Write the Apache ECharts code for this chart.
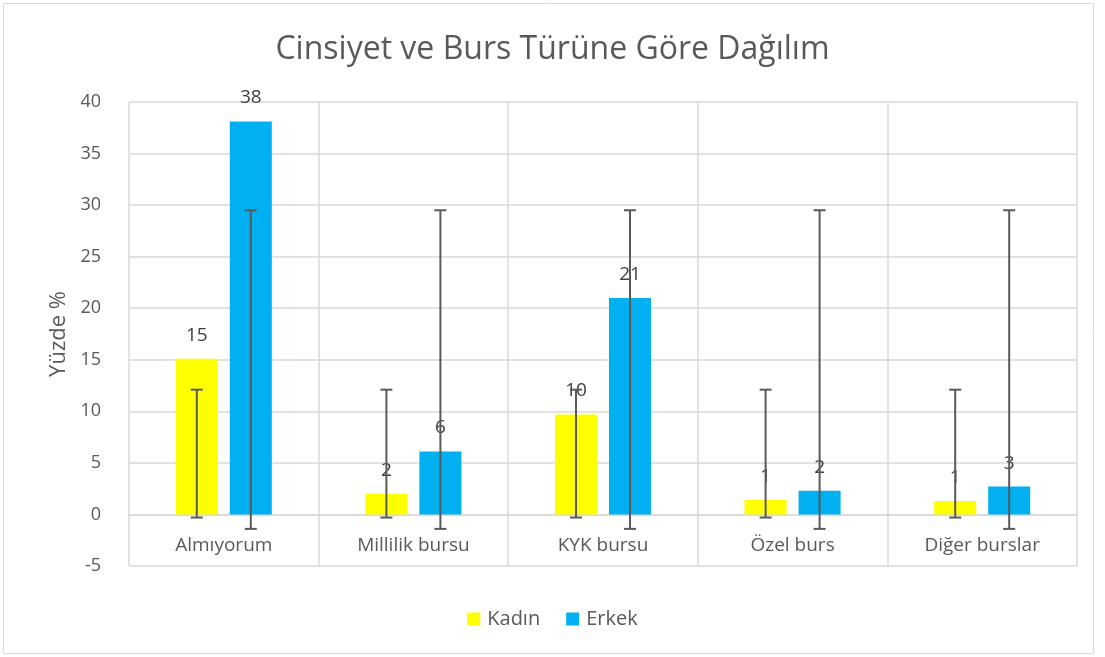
<!DOCTYPE html>
<html>
<head>
<meta charset="utf-8">
<script src="https://cdn.jsdelivr.net/npm/echarts@6/dist/echarts.min.js"></script>
<style>
  html, body { margin: 0; padding: 0; background: #fff; }
  #chart { width: 1105px; height: 657px; }
</style>
</head>
<body>
<div id="chart"></div>
<script>
const categories = ['Almıyorum', 'Millilik bursu', 'KYK bursu', 'Özel burs', 'Diğer burslar']
const kadin = [15.1, 2.0, 9.7, 1.4, 1.3]
const erkek = [38.1, 6.1, 21.0, 2.3, 2.7]
// error bar ends (same for every category in the source chart)
const kadinErrLow = [-0.3, -0.3, -0.3, -0.3, -0.3]
const kadinErrHigh = [12.1, 12.1, 12.1, 12.1, 12.1]
const erkekErrLow = [-1.4, -1.4, -1.4, -1.4, -1.4]
const erkekErrHigh = [29.5, 29.5, 29.5, 29.5, 29.5]

const FONT = 'Open Sans'
const BAR_W = 42
const BAR_GAP = 12
const OFFSET = (BAR_W + BAR_GAP) / 2

function errorSeries(name, low, high, dx) {
  return {
    name: name + '-err',
    type: 'custom',
    z: 5,
    silent: true,
    data: categories.map((c, i) => [i, low[i], high[i]]),
    renderItem(params, api) {
      const lo = api.coord([api.value(0), api.value(1)])
      const hi = api.coord([api.value(0), api.value(2)])
      const x = lo[0] + dx
      const cap = 6
      const style = { stroke: '#595959', lineWidth: 2 }
      return {
        type: 'group',
        children: [
          { type: 'line', shape: { x1: x, y1: lo[1], x2: x, y2: hi[1] }, style },
          { type: 'line', shape: { x1: x - cap, y1: lo[1], x2: x + cap, y2: lo[1] }, style },
          { type: 'line', shape: { x1: x - cap, y1: hi[1], x2: x + cap, y2: hi[1] }, style },
        ],
      }
    },
  }
}

const labelStyle = {
  show: true,
  position: 'top',
  distance: 14,
  fontFamily: FONT,
  fontSize: 19,
  color: '#404040',
  formatter: p => Math.round(p.value),
}

const chart = echarts.init(document.getElementById('chart'), null, { renderer: 'canvas' })
chart.setOption({
  animation: false,
  backgroundColor: '#fff',
  graphic: [{
    type: 'rect',
    shape: { x: 3.5, y: 3.5, width: 1090, height: 650 },
    style: { fill: 'none', stroke: '#d9d9d9', lineWidth: 1 },
    silent: true,
  }],
  title: {
    text: 'Cinsiyet ve Burs Türüne Göre Dağılım',
    left: 'center',
    top: 29,
    textStyle: { fontFamily: FONT, fontSize: 32, fontWeight: 'normal', color: '#595959' },
  },
  legend: {
    bottom: 23,
    left: 'center',
    itemWidth: 13,
    itemHeight: 13,
    itemGap: 26,
    icon: 'rect',
    data: ['Kadın', 'Erkek'],
    textStyle: { fontFamily: FONT, fontSize: 20, color: '#595959', padding: [0, 0, 0, 2] },
  },
  grid: { left: 129, right: 28, top: 102, bottom: 91 },
  xAxis: {
    type: 'category',
    data: categories,
    offset: -51.5,
    axisLine: { onZero: false, lineStyle: { color: '#d9d9d9', width: 1.5 } },
    axisTick: { show: false },
    axisLabel: { fontFamily: FONT, fontSize: 19, color: '#595959', margin: 22 },
    splitLine: { show: true, lineStyle: { color: '#d9d9d9', width: 1.5 } },
  },
  yAxis: {
    type: 'value',
    min: -5,
    max: 40,
    interval: 5,
    name: 'Yüzde %',
    nameLocation: 'middle',
    nameGap: 56,
    nameTextStyle: { fontFamily: FONT, fontSize: 22, color: '#595959' },
    axisLine: { show: false },
    axisTick: { show: false },
    axisLabel: { fontFamily: FONT, fontSize: 18, color: '#595959', margin: 28 },
    splitLine: { lineStyle: { color: '#d9d9d9', width: 1.5 } },
  },
  series: [
    {
      name: 'Kadın',
      type: 'bar',
      data: kadin,
      barWidth: BAR_W,
      barGap: (BAR_GAP / BAR_W * 100) + '%',
      itemStyle: { color: '#ffff00' },
      label: labelStyle,
    },
    {
      name: 'Erkek',
      type: 'bar',
      data: erkek,
      barWidth: BAR_W,
      itemStyle: { color: '#00b0f0' },
      label: labelStyle,
    },
    errorSeries('Kadın', kadinErrLow, kadinErrHigh, -OFFSET),
    errorSeries('Erkek', erkekErrLow, erkekErrHigh, OFFSET),
  ],
})
</script>
</body>
</html>
